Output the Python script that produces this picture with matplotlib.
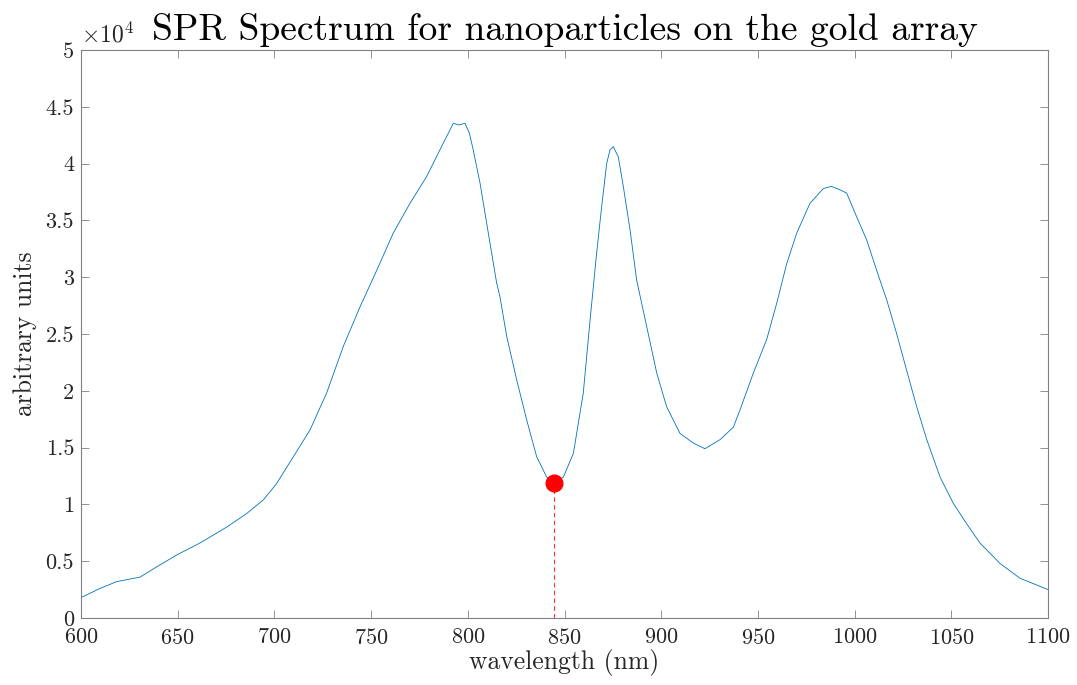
import numpy as np
import matplotlib.pyplot as plt
from matplotlib.ticker import FuncFormatter

plt.rcParams["font.family"] = "cmr10"
plt.rcParams["mathtext.fontset"] = "cm"
plt.rcParams["axes.formatter.use_mathtext"] = True

# values (wavelength in nm, intensity in a.u.)
wavelength = [600, 609.8, 618.4, 630.5, 639.1, 649.5, 661.5, 675.3, 685.7, 694.3,
              701, 709.8, 718.4, 727, 735.6, 744.3, 752.9, 761.5, 770.1, 778.7,
              787.3, 790, 792.5, 795.5, 798.5, 800.8, 802.8, 806.3, 809.8, 814.9,
              816.6, 820.1, 825.3, 830.5, 835.6, 840.8, 844.6, 849.4, 854.6, 859.7,
              863.2, 866.6, 869.2, 871.8, 873.5, 875.2, 877.8, 880.4, 883.9, 887.3,
              892.5, 897.7, 902.8, 909.7, 916.6, 922.6, 930.4, 937.3, 940.7, 947.6,
              954.5, 959.7, 964.9, 970.1, 976.9, 983.8, 988, 992.4, 995.9, 1001.1,
              1006.2, 1011.4, 1016.6, 1021.7, 1026.9, 1032.1, 1037.3, 1044.2, 1051.0,
              1057.9, 1064.8, 1075.2, 1085.5, 1100]
intensity = [1800, 2600, 3200, 3600, 4500, 5550, 6600, 8000, 9200, 10400,
             11800, 14200, 16550, 19800, 23900, 27400, 30600, 33900, 36500, 38850,
             41800, 42700, 43550, 43400, 43550, 42700, 41200, 38300, 34700, 29500,
             28300, 24800, 20950, 17400, 14200, 12400, 11880, 12400, 14500, 19800,
             26200, 32100, 36200, 40000, 41200, 41500, 40600, 38000, 34150, 29750,
             25650, 21550, 18600, 16250, 15400, 14900, 15700, 16800, 18300, 21550,
             24500, 27700, 31200, 33900, 36500, 37800, 38000, 37700, 37400, 35300,
             33300, 30600, 28000, 25050, 21800, 18600, 15700, 12400, 10100,
             8300, 6600, 4800, 3500, 2500]

wl = np.array(wavelength)
inten = np.array(intensity)

# minimum between the first two peaks
mask = (wl > 820) & (wl < 870)
i_min = np.argmin(np.where(mask, inten, np.inf))
wl_min, int_min = wl[i_min], inten[i_min]

fig = plt.figure(figsize=(10.77, 6.85), dpi=100)
ax = fig.add_axes([0.0752, 0.0978, 0.8979, 0.8292])

ax.plot(wl, inten, color="#0072BD", linewidth=0.6)
ax.plot([wl_min, wl_min], [0, int_min], color="#ff3030", linestyle=(0, (4, 3)),
        linewidth=0.8)
ax.plot(wl_min, int_min, "o", color="red", markersize=12)

ax.set_xlim(600, 1100)
ax.set_ylim(0, 50000)
ax.set_xticks(np.arange(600, 1101, 50))
ax.set_yticks(np.arange(0, 50001, 5000))
ax.yaxis.set_major_formatter(FuncFormatter(lambda v, _: f"{v / 1e4:g}"))

ax.tick_params(direction="in", length=6, width=0.6, top=True, right=True,
               labelsize=16, colors="#808080", labelcolor="#262626")
ax.tick_params(axis="x", pad=7)
ax.tick_params(axis="y", pad=5)
for sp in ax.spines.values():
    sp.set_color("#808080")
    sp.set_linewidth(0.8)

ax.text(0, 1.004, r"$\times10^{4}$", transform=ax.transAxes, fontsize=17,
        color="#262626", ha="left", va="bottom")

ax.set_xlabel("wavelength (nm)", fontsize=18.5, color="#262626", labelpad=1)
ax.set_ylabel("arbitrary units", fontsize=18.5, color="#262626", labelpad=6)
ax.set_title("SPR Spectrum for nanoparticles on the gold array", fontsize=27,
             color="black", pad=7)

fig.savefig("out.png", dpi=100)
